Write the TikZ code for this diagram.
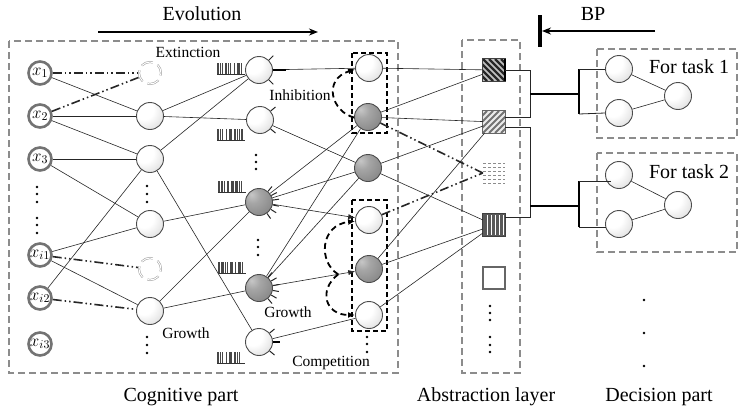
\documentclass[tikz,border=0pt]{standalone}
\usepackage{fix-cm}
\usepackage{fontspec}
\setmainfont{Liberation Serif}
\usetikzlibrary{arrows.meta,calc}
\pgfdeclareradialshading{wball}{\pgfpoint{-14bp}{14bp}}{color(0bp)=(white); color(18bp)=(white); color(38bp)=(black!12); color(52bp)=(black!35); color(64bp)=(black!55); color(100bp)=(black!55)}
\pgfdeclareradialshading{gball}{\pgfpoint{-14bp}{14bp}}{color(0bp)=(black!22); color(14bp)=(black!35); color(40bp)=(black!48); color(56bp)=(black!60); color(66bp)=(black!72); color(100bp)=(black!72)}
\newcommand{\spiketrain}[3]{%
  \draw[line width=0.7pt,black!80] (#1,#2) -- ++(28,0);
  \foreach \o/\w in {#3} \draw[line width=\w pt,black!72] ({#1+\o},#2) -- ++(0,-11);
}
\newcommand{\dendr}[2]{%
  \foreach \a in {#2} \draw[line width=1pt,black!85] (#1.\a) -- ($(#1.center)!1.45!(#1.\a)$);
}
\newcommand{\threedots}[4]{%
  \fill (#1,#2) circle (1.4pt) (#1,#3) circle (1.4pt) (#1,#4) circle (1.4pt);
}
\begin{document}
\begin{tikzpicture}[x=1pt,y=-1pt,
  neuron/.style={circle,minimum size=27pt,inner sep=0pt,draw=black!70,line width=0.9pt,shade,shading=wball},
  gneuron/.style={circle,minimum size=27pt,inner sep=0pt,draw=black!70,line width=0.9pt,shade,shading=gball},
  inp/.style={circle,minimum size=23pt,inner sep=0pt,draw=black!55,line width=2.6pt,fill=white,font=\fontsize{17}{17}\selectfont},
  ext/.style={circle,minimum size=24pt,inner sep=0pt},
  sq/.style={minimum size=22pt,inner sep=0pt},
  conn/.style={line width=0.6pt,black!85},
  arr/.style={line width=0.6pt,black!85,-{Latex[length=7pt,width=5pt]}},
  dd/.style={line width=1.6pt,black!85,dash pattern=on 9pt off 3pt on 1.5pt off 3pt on 1.5pt off 3pt},
  inh/.style={line width=1.8pt,dash pattern=on 6pt off 4pt,-{Latex[length=7pt,width=6pt]}},
  gbox/.style={line width=1.1pt,black!45,dash pattern=on 7pt off 4pt},
  kbox/.style={line width=1.2pt,black,dash pattern=on 5pt off 3pt},
  brk/.style={line width=0.8pt,black!85},
  thk/.style={line width=1.5pt,black},
  lab/.style={font=\fontsize{15.5}{16}\selectfont,anchor=base},
  big/.style={font=\fontsize{20}{22}\selectfont,anchor=base},
]
\useasboundingbox (0,0) rectangle (747,410);
\fill[white] (0,0) rectangle (747,410);

% boxes
\draw[gbox] (9,41) rectangle (398,373);
\draw[gbox] (462,40) rectangle (520,373);
\draw[gbox] (597,49) rectangle (737,138);
\draw[gbox] (597,153) rectangle (737,252);
\draw[kbox] (352,53) rectangle (387,133);
\draw[kbox] (352,200) rectangle (387,331);

% inputs
\node[inp] (x1) at (40,73) {$x_{1}$};
\node[inp] (x2) at (40,116) {$x_{2}$};
\node[inp] (x3) at (40,159) {$x_{3}$};
\node[inp] (xi1) at (40,255) {$x_{i1}$};
\node[inp] (xi2) at (40,298) {$x_{i2}$};
\node[inp] (xi3) at (40,344) {$x_{i3}$};

% layer 1
\node[ext] (E1) at (150,73) {};
\node[neuron] (L12) at (150,116) {};
\node[neuron] (L13) at (150,159) {};
\node[neuron] (L14) at (150,224) {};
\node[ext] (E2) at (150,269) {};
\node[neuron] (L16) at (150,311) {};
\foreach \e in {E1,E2}
  \draw[black!40,line width=0.5pt,double=white,double distance=1pt,dash pattern=on 12pt off 5.3pt,dash phase=3pt] (\e.center) circle (11pt);

% layer 2
\node[neuron] (L21) at (259,70) {};
\node[neuron] (L22) at (260,120) {};
\node[gneuron] (L23) at (259,202) {};
\node[gneuron] (L24) at (259,288) {};
\node[neuron] (L25) at (259,342) {};

% layer 3
\node[neuron] (L31) at (369,68) {};
\node[gneuron] (L32) at (368,117) {};
\node[gneuron] (L33) at (368,168) {};
\node[neuron] (L34) at (369,220) {};
\node[gneuron] (L35) at (369,269) {};
\node[neuron] (L36) at (369,315) {};

% abstraction squares
\node[sq] (A1) at (494,70) {};
\node[sq] (A2) at (494,122) {};
\node[sq] (A3) at (494,173) {};
\node[sq] (A4) at (494,225) {};
\node[sq,draw=black!60,line width=1.6pt] (A5) at (494,278) {};

\fill[black!25] (A1.north west) rectangle (A1.south east);
\begin{scope}
  \clip (A1.north west) rectangle (A1.south east);
  \foreach \k in {-24,-18,...,24} \draw[line width=2.2pt,black!85] (483+\k,59) -- ++(22,22);
\end{scope}
\draw[black!75,line width=1pt] (A1.north west) rectangle (A1.south east);
\draw[black,line width=2pt] (A1.north east) -- (A1.south east);

\fill[black!8] (A2.north west) rectangle (A2.south east);
\begin{scope}
  \clip (A2.north west) rectangle (A2.south east);
  \foreach \k in {-24,-18,...,24} \draw[line width=1.8pt,black!55] (483+\k,133) -- ++(22,-22);
\end{scope}
\draw[black!60,line width=1pt] (A2.north west) rectangle (A2.south east);

\foreach \yy in {163,167,171,175,179,183}
  \draw[black!45,line width=0.6pt,dash pattern=on 3pt off 2pt] (483,\yy) -- (505,\yy);

\fill[black!65] (A4.north west) rectangle (A4.south east);
\foreach \k in {4,8,12,16,20} \draw[white,line width=0.8pt] (483+\k,215) -- (483+\k,235);
\draw[black!75,line width=1pt] (A4.north west) rectangle (A4.south east);

% decision nodes
\node[neuron] (D11) at (619,69) {};
\node[neuron] (D12) at (619,113) {};
\node[neuron] (D13) at (678,96) {};
\node[neuron] (D21) at (619,175) {};
\node[neuron] (D22) at (619,224) {};
\node[neuron] (D23) at (678,205) {};

% input -> layer 1
\draw[conn] (x1) -- (L12);
\draw[conn] (x2) -- (L12);
\draw[conn] (x2) -- (L13);
\draw[conn] (x3) -- (L13);
\draw[conn] (x3) -- (L14);
\draw[conn] (xi1) -- (L14);
\draw[conn] (xi1) -- (L16);
\draw[conn] (xi2) -- (L13);
\draw[dd] (x1) -- (E1);
\draw[dd] (x2) -- (E1);
\draw[dd] (xi1) -- (E2);
\draw[dd] (xi2) -- (L16);

% layer 1 -> layer 2
\draw[conn] (L12) -- (L21);
\draw[conn] (L12) -- (L22);
\draw[conn] (L13) -- (L21);
\draw[conn] (L13) -- (L25);
\draw[conn] (L14) -- (L23);
\draw[conn] (L16) -- (L23);
\draw[conn] (L16) -- (L24);

% layer 2 <-> layer 3
\draw[conn] (L21) -- (L31);
\draw[conn] (L22) -- (L33);
\draw[conn] (L23) -- (L32);
\draw[conn] (L23) -- (L33);
\draw[arr] (L23) -- (L34);
\draw[conn] (L24) -- (L32);
\draw[conn] (L24) -- (L33);
\draw[arr] (L24) -- (L35);
\draw[conn] (L25) -- (L36);

% dendrites
\dendr{L21}{45,-45}
\draw[line width=2pt] (L21.east) -- ++(13,0);
\dendr{L22}{40,-40}
\dendr{L23}{50,28,8,-12,-32,-55}
\dendr{L24}{50,30,10,-10,-30,-50}
\dendr{L25}{40,-40}
\draw[line width=1.6pt] (L25.east) -- ++(7,0);

% spike trains
\spiketrain{217}{74}{1/1.4,3.5/0.6,5.5/1.4,9/1.4,11.5/0.6,13.5/1.4,17.5/1.6,20/0.6,22/1.4,24.5/1.2}
\spiketrain{217}{140}{1/1.4,3.5/0.6,5.5/1.4,9.5/1.4,12/0.6,14/1.4,18/1.6,20.5/0.6,22.5/1.4,25/1.2}
\spiketrain{218}{192}{1/1.2,2.8/0.6,4.5/1.2,6.5/1.2,9/0.6,10.5/1.3,13/0.7,15/1.2,17.5/0.6,19/1.2,21.5/0.7,23.5/1.2}
\spiketrain{218}{273}{1/1.2,3/0.6,5/1.3,7/0.7,9.5/1.2,12/0.6,14/1.3,17.5/1.2,20/0.6,22/1.2,24.5/0.7}
\spiketrain{217}{363}{1/1.4,3.5/0.6,5.5/1.4,9.5/1.4,12/0.6,14/1.4,18/1.6,20.5/0.6,22.5/1.4}

% inhibition / competition
\draw[inh] (L32.182) .. controls (332,112) and (322,80) .. (L31.185);
\coordinate (c0) at ($(L24)!0.72!(L35)$);
\draw[inh] (c0) .. controls (318,262) and (320,225) .. (L34.185);
\draw[inh] (c0) .. controls (318,290) and (325,315) .. (L36.180);

% layer 3 -> abstraction
\draw[conn] (L31) -- (A1);
\draw[conn] (L32) -- (A1);
\draw[conn] (L32) -- (A2);
\draw[conn] (L33) -- (A2);
\draw[conn] (L33) -- (A4);
\draw[conn] (L35) -- (A2);
\draw[conn] (L35) -- (A4);
\draw[conn] (L36) -- (A4);
\draw[dd] (L32) -- (A3.west);
\draw[dd] (L34) -- (A3.west);

% brackets
\draw[brk] (A1.east) -| (530,117) -- ($(A2.east)+(0,-5)$);
\draw[brk] ($(A2.east)+(0,5)$) -| (530,217) -- ($(A4.east)+(0,-8)$);
\coordinate (m1) at (530,94);
\coordinate (m2) at (579,94);
\coordinate (m3) at (530,206);
\coordinate (m4) at (579,206);
\draw[thk] (m1) -- (m2);
\draw[thk] (579,69) -- (579,114);
\draw[brk] (579,69) -- (D11.west);
\draw[brk] (579,114) -- (D12.west);
\draw[thk] (m3) -- (m4);
\draw[thk] (579,181) -- (579,227);
\draw[brk] (579,181) -- (611,181);
\draw[brk] (579,227) -- (606,227);
\draw[conn] (D11) -- (D13);
\draw[conn] (D12) -- (D13);
\draw[conn] (D21) -- (D23);
\draw[conn] (D22) -- (D23);

% dots
\threedots{37}{187}{194}{202}
\threedots{37}{218}{225}{233}
\threedots{147}{186}{194}{202}
\threedots{147}{337}{345}{353}
\threedots{256}{155}{162}{169}
\threedots{258}{240}{247}{255}
\threedots{367}{337}{344}{352}
\threedots{490}{306}{313}{320}
\threedots{490}{337}{345}{352}
\threedots{644}{300}{333}{366}

% arrows on top
\coordinate (ev0) at (98,32);
\coordinate (ev1) at (318,32);
\draw[line width=1.5pt,-{Stealth[length=9pt,width=7pt]}] (ev0) -- (ev1);
\coordinate (bp0) at (655,31);
\coordinate (bp1) at (542,31);
\draw[line width=1.5pt,-{Stealth[length=9pt,width=7pt]}] (bp0) -- (bp1);
\draw[line width=4.5pt] (540,15) -- (540,47);

% labels
\node[big] (tEvo) at (202,20) {Evolution};
\node[big] (tBP) at (593,20) {BP};
\node[big] (tT1) at (689,73) {For task 1};
\node[big] (tT2) at (689,178) {For task 2};
\node[big] (tCog) at (181,401) {Cognitive part};
\node[big] (tAbs) at (486,401) {Abstraction layer};
\node[big] (tDec) at (659,401) {Decision part};
\node[lab] (tExt) at (188,57) {Extinction};
\node[lab] (tInh) at (300,100) {Inhibition};
\node[lab] (tG1) at (186,338) {Growth};
\node[lab] (tG2) at (288,317) {Growth};
\node[lab] (tComp) at (331,366) {Competition};
\end{tikzpicture}
\end{document}
